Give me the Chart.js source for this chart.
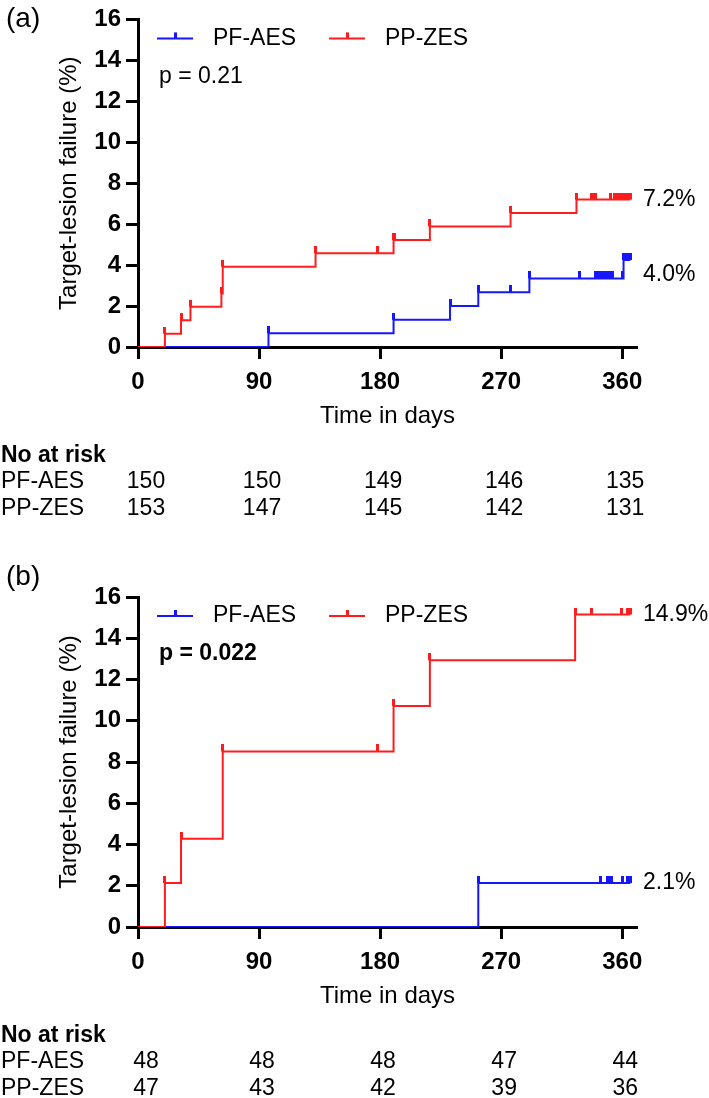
<!DOCTYPE html>
<html>
<head>
<meta charset="utf-8">
<script src="https://cdn.jsdelivr.net/npm/chart.js@4.4.0/dist/chart.umd.min.js"></script>
<style>
  html, body { margin: 0; padding: 0; background: #fff; }
  #wrap { position: relative; width: 709px; height: 1098px; overflow: hidden; }
  canvas { position: absolute; left: 0; }
</style>
</head>
<body>
<div id="wrap">
  <canvas id="chartA" width="709" height="540" style="top:0px"></canvas>
  <canvas id="chartB" width="709" height="540" style="top:558px"></canvas>
</div>
<script>
const FONT = "'Liberation Sans', Arial, Helvetica, sans-serif";
const RED = "rgb(255,28,28)";
const BLUE = "rgb(22,22,255)";

const xTicks = [0, 90, 180, 270, 360];
const groups = ["PF-AES", "PP-ZES"];

// --- panel (a) ---
const aesTimesA = [0, 97, 190, 232, 253, 291, 361, 366];
const aesValuesA = [0, 0.67, 1.33, 2.0, 2.67, 3.35, 4.25, 4.25];
const aesCensorA = [97, 190, 232, 253, 277, 291, 328, 340, 342, 344, 346, 348, 350, 352, 353, 360, 361, 362.5, 364, 365.5, 366];
const zesTimesA = [0, 20, 32, 39, 62, 63, 132, 190, 217, 277, 326, 366];
const zesValuesA = [0, 0.65, 1.31, 1.96, 2.61, 3.92, 4.58, 5.23, 5.89, 6.55, 7.2, 7.2];
const zesCensorA = [20, 32, 39, 62, 63, 132, 178, 190, 191, 217, 277, 326, 337, 339, 340, 351, 354, 356, 358, 360, 362, 364, 366];
const atRiskAesA = [150, 150, 149, 146, 135];
const atRiskZesA = [153, 147, 145, 142, 131];

// --- panel (b) ---
const aesTimesB = [0, 253, 366];
const aesValuesB = [0, 2.13, 2.13];
const aesCensorB = [253, 344, 349, 350.5, 352, 360, 364, 365, 366];
const zesTimesB = [0, 20, 32, 63, 190, 217, 325, 366];
const zesValuesB = [0, 2.13, 4.28, 8.51, 10.72, 12.93, 15.15, 15.15];
const zesCensorB = [20, 32, 63, 178, 190, 217, 325, 337, 359.5, 364, 365, 366];
const atRiskAesB = [48, 48, 48, 47, 44];
const atRiskZesB = [47, 43, 42, 39, 36];

// value of a step curve at time t
function stepAt(times, values, t) {
    let v = values[0];
    for (let i = 0; i < times.length; i++) {
        if (times[i] <= t) v = values[i];
    }
    return v;
}

// small upward censor tick used as point style
function censorMark(color) {
    const c = document.createElement("canvas");
    c.width = 3;
    c.height = 14;
    const g = c.getContext("2d");
    g.fillStyle = color;
    g.fillRect(0, 0, 3, 7);
    return c;
}

const kmDecor = {
    id: "kmDecor",
    afterDraw(chart) {
        const o = chart.options.plugins.kmDecor;
        const ctx = chart.ctx;
        const area = chart.chartArea;
        const x = chart.scales.x;
        const y = chart.scales.y;
        ctx.save();
        ctx.fillStyle = "#000";
        ctx.textBaseline = "middle";

        // panel letter
        ctx.font = "28px " + FONT;
        ctx.textAlign = "left";
        ctx.fillText(o.panel, 6, 19);

        // legend
        const ly = area.top + 19;
        [[BLUE, 19, groups[0]], [RED, 191, groups[1]]].forEach(([col, off, name]) => {
            const x0 = area.left + off;
            ctx.strokeStyle = col;
            ctx.lineWidth = 2;
            ctx.beginPath();
            ctx.moveTo(x0, ly);
            ctx.lineTo(x0 + 36, ly);
            ctx.stroke();
            ctx.fillStyle = col;
            ctx.fillRect(x0 + 17, ly - 6, 3, 6);
            ctx.fillStyle = "#000";
            ctx.font = "23px " + FONT;
            ctx.fillText(name, x0 + 56, ly);
        });

        // p value
        ctx.font = (o.pBold ? "bold " : "") + "23px " + FONT;
        ctx.fillText(o.pText, area.left + 21, area.top + 57);

        // end-of-curve estimates
        ctx.font = "23px " + FONT;
        o.endLabels.forEach((l) => {
            ctx.fillText(l.text, area.right + 6, y.getPixelForValue(l.y));
        });

        // numbers at risk
        const r0 = area.bottom + 109;
        ctx.font = "bold 23px " + FONT;
        ctx.fillText("No at risk", 1, r0);
        ctx.font = "23px " + FONT;
        ctx.fillText(groups[0], 1, r0 + 26);
        ctx.fillText(groups[1], 1, r0 + 53);
        ctx.textAlign = "center";
        xTicks.forEach((t, i) => {
            const px = x.getPixelForValue(t) + (i === 0 ? 8 : 3);
            ctx.fillText(String(o.riskAes[i]), px, r0 + 26);
            ctx.fillText(String(o.riskZes[i]), px, r0 + 53);
        });
        ctx.restore();
    }
};

function toPoints(times, values) {
    return times.map((t, i) => ({ x: t, y: values[i] }));
}

function censorPoints(times, values, censor) {
    return censor.map((t) => ({ x: t, y: stepAt(times, values, t) }));
}

function buildPanel(canvasId, d) {
    const ctx = document.getElementById(canvasId).getContext("2d");
    return new Chart(ctx, {
        type: "line",
        data: {
            datasets: [
                {
                    data: toPoints(d.zesTimes, d.zesValues),
                    borderColor: RED, borderWidth: 2, stepped: "before",
                    pointRadius: 0, fill: false
                },
                {
                    data: censorPoints(d.zesTimes, d.zesValues, d.zesCensor),
                    showLine: false, pointStyle: censorMark(RED), pointRadius: 4,
                    borderColor: RED, backgroundColor: RED
                },
                {
                    data: toPoints(d.aesTimes, d.aesValues),
                    borderColor: BLUE, borderWidth: 2, stepped: "before",
                    pointRadius: 0, fill: false
                },
                {
                    data: censorPoints(d.aesTimes, d.aesValues, d.aesCensor),
                    showLine: false, pointStyle: censorMark(BLUE), pointRadius: 4,
                    borderColor: BLUE, backgroundColor: BLUE
                }
            ]
        },
        options: {
            responsive: false,
            animation: false,
            devicePixelRatio: 1,
            layout: { padding: { left: 0, right: 72, top: d.padTop, bottom: d.padBottom } },
            plugins: {
                legend: { display: false },
                tooltip: { enabled: false },
                kmDecor: d.decor
            },
            scales: {
                x: {
                    type: "linear",
                    min: 0,
                    max: 371,
                    afterBuildTicks: (s) => { s.ticks = xTicks.map((v) => ({ value: v })); },
                    afterFit: (s) => { s.height = 93; },
                    ticks: { color: "#000", padding: 9, font: { family: FONT, size: 24, weight: "bold" } },
                    grid: { display: true, drawOnChartArea: false, drawTicks: true, tickLength: 12, tickWidth: 3, tickColor: "#000" },
                    border: { display: true, width: 3, color: "#000" },
                    title: {
                        display: true, text: "Time in days", color: "#000",
                        padding: { top: 0, bottom: 9 }, font: { family: FONT, size: 24 }
                    }
                },
                y: {
                    min: 0,
                    max: 16,
                    afterFit: (s) => { s.width = 138; },
                    ticks: { stepSize: 2, color: "#000", padding: 5, font: { family: FONT, size: 24, weight: "bold" } },
                    grid: { display: true, drawOnChartArea: false, drawTicks: true, tickLength: 12, tickWidth: 3, tickColor: "#000" },
                    border: { display: true, width: 3, color: "#000" },
                    title: {
                        display: true, text: "Target-lesion failure (%)", color: "#000",
                        padding: { top: 55, bottom: 0 }, font: { family: FONT, size: 24 }
                    }
                }
            }
        },
        plugins: [kmDecor]
    });
}

buildPanel("chartA", {
    aesTimes: aesTimesA, aesValues: aesValuesA, aesCensor: aesCensorA,
    zesTimes: zesTimesA, zesValues: zesValuesA, zesCensor: zesCensorA,
    padTop: 16, padBottom: 100,
    decor: {
        panel: "(a)", pText: "p = 0.21", pBold: false,
        endLabels: [{ text: "7.2%", y: 7.2 }, { text: "4.0%", y: 3.55 }],
        riskAes: atRiskAesA, riskZes: atRiskZesA
    }
});

buildPanel("chartB", {
    aesTimes: aesTimesB, aesValues: aesValuesB, aesCensor: aesCensorB,
    zesTimes: zesTimesB, zesValues: zesValuesB, zesCensor: zesCensorB,
    padTop: 39, padBottom: 78,
    decor: {
        panel: "(b)", pText: "p = 0.022", pBold: true,
        endLabels: [{ text: "14.9%", y: 15.15 }, { text: "2.1%", y: 2.13 }],
        riskAes: atRiskAesB, riskZes: atRiskZesB
    }
});
</script>
</body>
</html>
